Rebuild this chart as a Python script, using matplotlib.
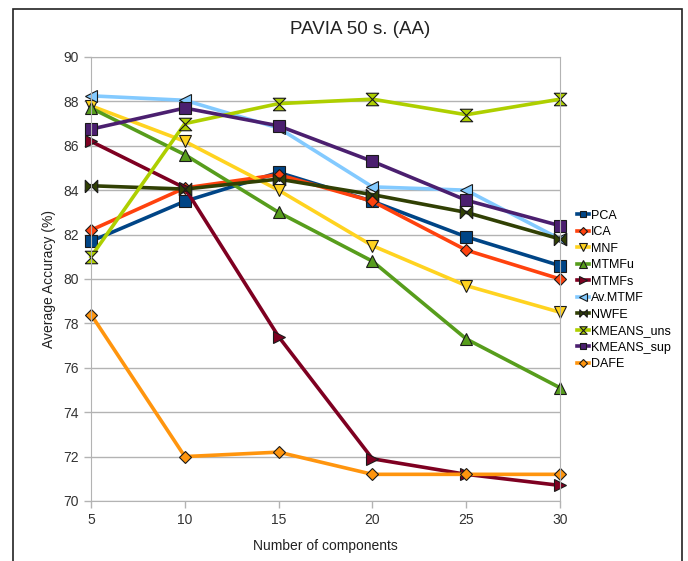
import matplotlib.pyplot as plt
from matplotlib.patches import Rectangle

plt.rcParams['font.family'] = ['Liberation Sans', 'DejaVu Sans']

components = [5, 10, 15, 20, 25, 30]

pca = [81.7, 83.5, 84.8, 83.5, 81.9, 80.6]
ica = [82.2, 84.1, 84.7, 83.5, 81.3, 80.0]
mnf = [87.8, 86.2, 84.0, 81.5, 79.7, 78.5]
mtmfu = [87.7, 85.6, 83.0, 80.8, 77.3, 75.1]
mtmfs = [86.2, 84.1, 77.4, 71.9, 71.2, 70.7]
av_mtmf = [88.25, 88.05, 86.8, 84.15, 84.0, 81.8]
nwfe = [84.2, 84.05, 84.5, 83.8, 83.0, 81.8]
kmeans_uns = [81.0, 87.0, 87.9, 88.1, 87.4, 88.1]
kmeans_sup = [86.75, 87.7, 86.9, 85.3, 83.55, 82.4]
dafe = [78.4, 72.0, 72.2, 71.2, 71.2, 71.2]

bowtie = [(-1, -1), (1, 1), (1, -1), (-1, 1), (-1, -1)]
hourglass = [(-1, -1), (1, -1), (-1, 1), (1, 1), (-1, -1)]

series = [
    ("PCA", pca, "#004586", "s", 8),
    ("ICA", ica, "#FF420E", "D", 6.5),
    ("MNF", mnf, "#FFD320", "v", 9),
    ("MTMFu", mtmfu, "#579D1C", "^", 9),
    ("MTMFs", mtmfs, "#7E0021", ">", 9),
    ("Av.MTMF", av_mtmf, "#83CAFF", "<", 9),
    ("NWFE", nwfe, "#314004", bowtie, 9),
    ("KMEANS_uns", kmeans_uns, "#AECF00", hourglass, 9),
    ("KMEANS_sup", kmeans_sup, "#4B1F6F", "s", 8),
    ("DAFE", dafe, "#FF950E", "D", 6.5),
]

fig = plt.figure(figsize=(6.88, 5.61), dpi=100)
ax = fig.add_axes([0.1323, 0.107, 0.6817, 0.7914])

for name, vals, color, marker, ms in series:
    ax.plot(components, vals, color=color, lw=2.6, marker=marker, ms=ms,
            markerfacecolor=color, markeredgecolor="#1a1a1a", markeredgewidth=0.8,
            label=name, clip_on=False)

ax.set_xlim(5, 30)
ax.set_ylim(70, 90)
ax.set_xticks(components)
ax.set_yticks(range(70, 91, 2))
ax.yaxis.grid(True, color="#b3b3b3", lw=1)
ax.set_axisbelow(True)
for s in ax.spines.values():
    s.set_color("#b3b3b3")
ax.tick_params(colors="#b3b3b3", labelcolor="#333333", labelsize=10, length=5, width=1)
ax.tick_params(axis="x", pad=4)
ax.tick_params(axis="y", pad=4)

ax.set_xlabel("Number of components", fontsize=10, color="#222222", labelpad=8)
ax.set_ylabel("Average Accuracy (%)", fontsize=10, color="#222222", labelpad=5)
fig.text(0.523, 0.947, "PAVIA 50 s. (AA)", ha="center", va="center", fontsize=13.5, color="#222222")

ax.legend(loc="center left", bbox_to_anchor=(1.025, 0.475), frameon=False, fontsize=9,
          handlelength=1.0, handletextpad=0.15, labelspacing=0.36, borderaxespad=0,
          markerscale=0.6)

fig.add_artist(Rectangle((13 / 688, -0.05), (682 - 13) / 688, 1 - 9 / 561 + 0.05,
                         transform=fig.transFigure, fill=False, edgecolor="#222222", lw=1.2))

fig.savefig("out.png", dpi=100)
